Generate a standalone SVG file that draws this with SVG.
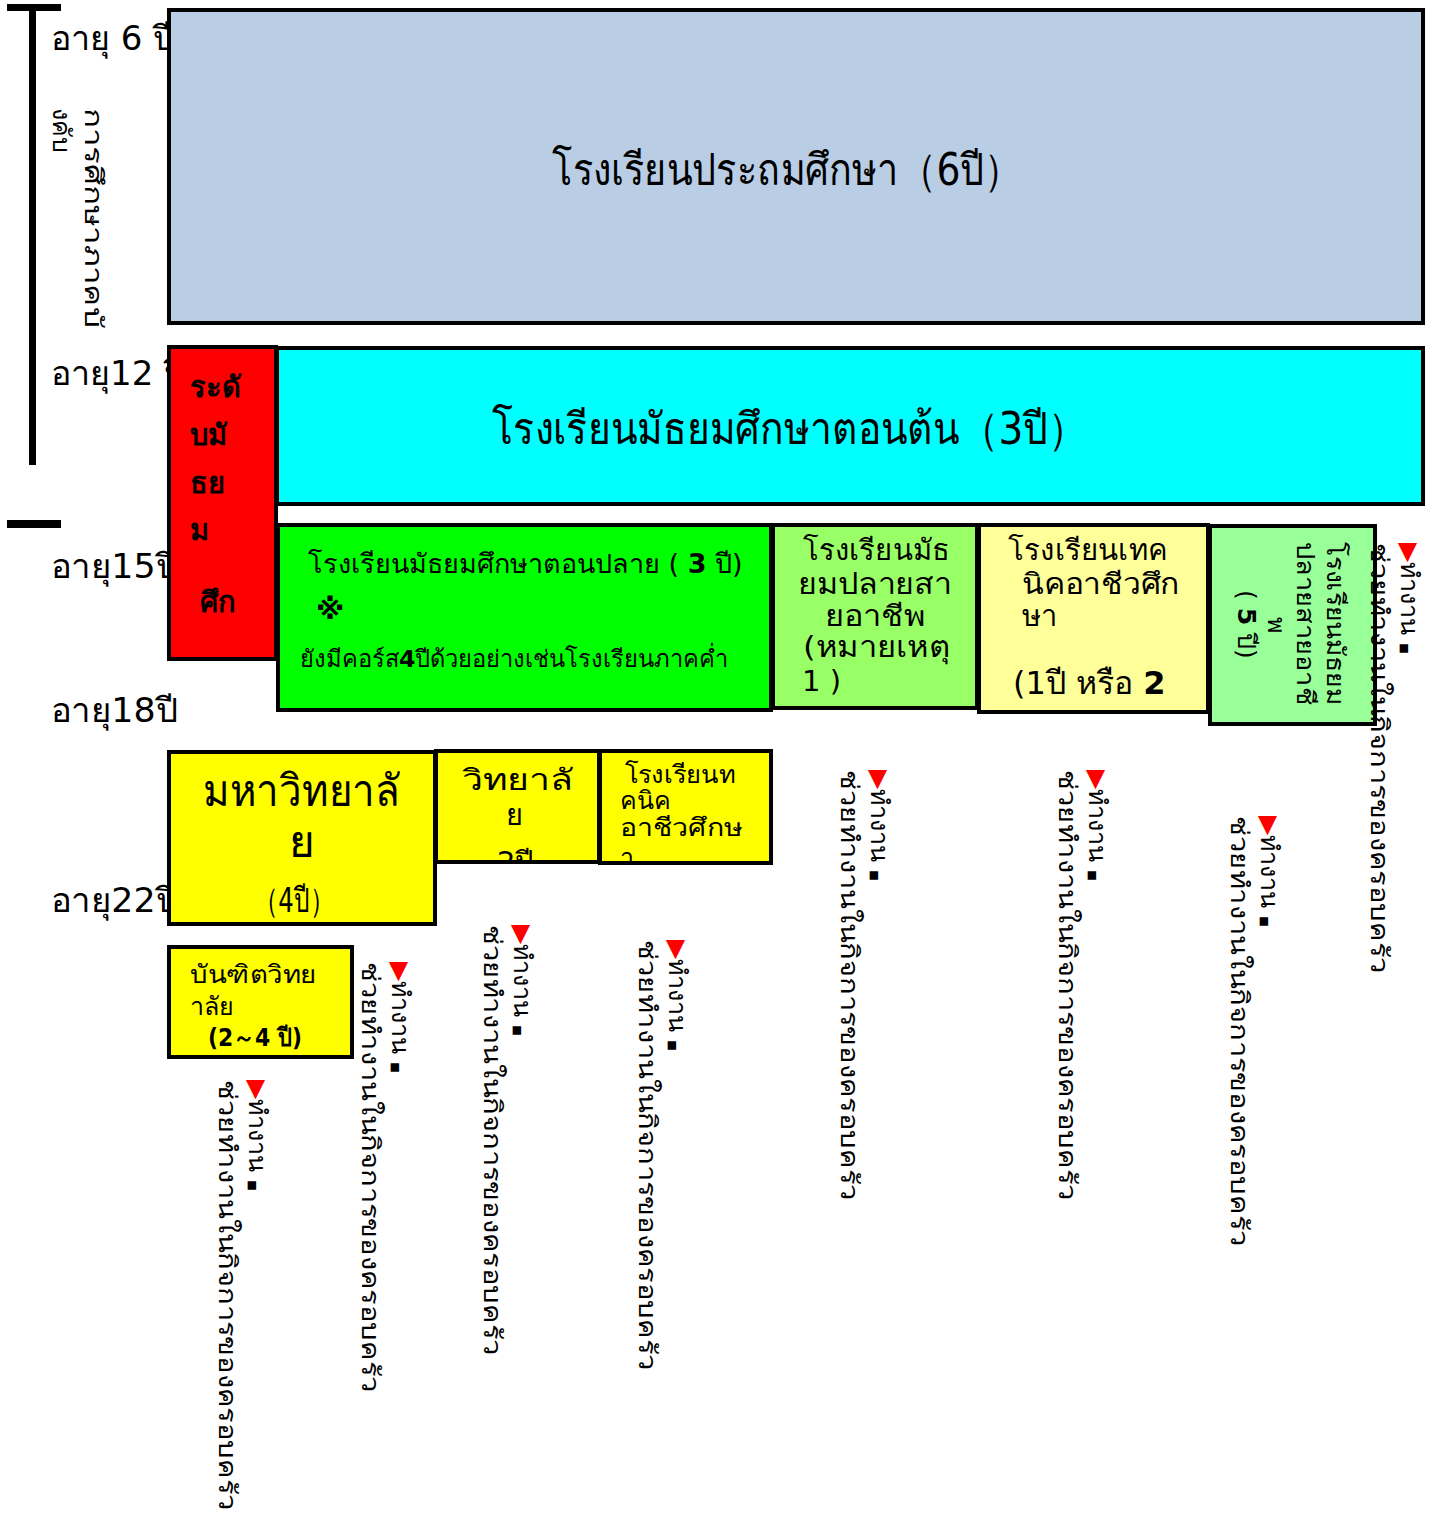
<svg xmlns="http://www.w3.org/2000/svg" width="1445" height="1515" viewBox="0 0 1445 1515">
<style>
text{font-family:"DejaVu Sans","Noto Sans",sans-serif;fill:#000}
.age{font-size:34px}
.box{stroke:#000;stroke-width:4}
.t44{font-size:44px}
.t30{font-size:29px}
.t26{font-size:25px}
.b{font-weight:bold}
.v{font-size:25px}
.tri{fill:#FF0000}
.sq{font-size:11px}
</style>
<defs>
<clipPath id="c1"><rect x="437" y="752" width="160" height="108"/></clipPath>
<clipPath id="c2"><rect x="601" y="752" width="168" height="109"/></clipPath>
</defs>
<rect width="1445" height="1515" fill="#fff"/>

<g id="bracket">
<rect x="7" y="4" width="54" height="7" fill="#000"/>
<rect x="29" y="4" width="7" height="461" fill="#000"/>
<rect x="7" y="520" width="54" height="8" fill="#000"/>
<g transform="translate(85,108) rotate(90)">
<text class="v" x="0" y="0" textLength="220" lengthAdjust="spacingAndGlyphs">การศึกษาภาคบั</text>
<text class="v" x="0" y="32">งคับ</text>
</g>
</g>

<g id="ages">
<text class="age" x="51" y="50">อายุ 6 ปี</text>
<text class="age" x="51" y="385">อายุ12 ปี</text>
<text class="age" x="51" y="578" textLength="127" lengthAdjust="spacingAndGlyphs">อายุ15ปี</text>
<text class="age" x="51" y="722" textLength="127" lengthAdjust="spacingAndGlyphs">อายุ18ปี</text>
<text class="age" x="51" y="912" textLength="127" lengthAdjust="spacingAndGlyphs">อายุ22ปี</text>
</g>

<g id="primary">
<rect class="box" x="169" y="10" width="1254" height="313" fill="#B9CDE5"/>
<text class="t44" x="552" y="185" textLength="470" lengthAdjust="spacingAndGlyphs">โรงเรียนประถมศึกษา（6ปี）</text>
</g>

<g id="lower-secondary">
<rect class="box" x="277" y="348" width="1146" height="156" fill="#00FFFF"/>
<text class="t44" x="492" y="444" textLength="595" lengthAdjust="spacingAndGlyphs">โรงเรียนมัธยมศึกษาตอนต้น（3ปี）</text>
</g>

<g id="secondary-level">
<rect class="box" x="169" y="347" width="107" height="312" fill="#FF0000"/>
<text class="t30 b" x="190" y="397">ระดั</text>
<text class="t30 b" x="190" y="445">บมั</text>
<text class="t30 b" x="190" y="493">ธย</text>
<text class="t30 b" x="190" y="540">ม</text>
<text class="t30 b" x="200" y="612">ศึก</text>
</g>

<g id="upper-secondary">
<rect class="box" x="278" y="525" width="493" height="185" fill="#00FF00"/>
<text x="308" y="573" font-size="27">โรงเรียนมัธยมศึกษาตอนปลาย ( <tspan class="b">3</tspan> ปี)</text>
<text class="t30 b" x="316" y="619">※</text>
<text x="300" y="667" font-size="23.7">ยังมีคอร์ส<tspan class="b">4</tspan>ปีด้วยอย่างเช่นโรงเรียนภาคค่ำ</text>
</g>

<g id="vocational-upper">
<rect class="box" x="773" y="525" width="204" height="183" fill="#99FF66"/>
<text class="t30" x="803" y="560" textLength="147" lengthAdjust="spacingAndGlyphs">โรงเรียนมัธ</text>
<text class="t30" x="798" y="594" textLength="154" lengthAdjust="spacingAndGlyphs">ยมปลายสา</text>
<text class="t30" x="825" y="626" textLength="100" lengthAdjust="spacingAndGlyphs">ยอาชีพ</text>
<text class="t30" x="803" y="657" textLength="147" lengthAdjust="spacingAndGlyphs">(หมายเหตุ</text>
<text class="t30" x="802" y="691">1 )</text>
</g>

<g id="technical">
<rect class="box" x="979" y="525" width="229" height="187" fill="#FFFF99"/>
<text class="t30" x="1008" y="560" textLength="159" lengthAdjust="spacingAndGlyphs">โรงเรียนเทค</text>
<text class="t30" x="1022" y="594" textLength="158" lengthAdjust="spacingAndGlyphs">นิคอาชีวศึก</text>
<text class="t30" x="1022" y="626">ษา</text>
<text x="1013" y="694" font-size="32">(1ปี หรือ <tspan class="b">2</tspan></text>
</g>

<g id="vocational-5">
<rect class="box" x="1210" y="526" width="165" height="198" fill="#99FF99"/>
<g transform="translate(1327,542) rotate(90)">
<text class="v" x="0" y="0" textLength="163" lengthAdjust="spacingAndGlyphs">โรงเรียนมัธยม</text>
<text class="v" x="0" y="30" textLength="163" lengthAdjust="spacingAndGlyphs">ปลายสายอาชี</text>
<text class="v" x="75" y="59">พ</text>
<text class="v" x="48" y="89">( <tspan class="b">5</tspan> ปี)</text>
</g>
</g>

<g id="university">
<rect class="box" x="169" y="752" width="266" height="172" fill="#FFFF00"/>
<text class="t44" x="203" y="806" textLength="197" lengthAdjust="spacingAndGlyphs">มหาวิทยาลั</text>
<text class="t44" x="289" y="857">ย</text>
<text x="254" y="912" font-size="34" textLength="80" lengthAdjust="spacingAndGlyphs">（4ปี）</text>
</g>

<g id="college">
<rect class="box" x="436" y="751" width="163" height="111" fill="#FFFF00"/>
<g clip-path="url(#c1)">
<text class="t30" x="462" y="790" textLength="111" lengthAdjust="spacingAndGlyphs">วิทยาลั</text>
<text class="t30" x="506" y="825">ย</text>
<text class="t30" x="497" y="872">2ปี</text>
</g>
</g>

<g id="tech-college">
<rect class="box" x="600" y="751" width="171" height="112" fill="#FFFF00"/>
<g clip-path="url(#c2)">
<text class="t26" x="625" y="783" textLength="110" lengthAdjust="spacingAndGlyphs">โรงเรียนท</text>
<text class="t26" x="620" y="809">คนิค</text>
<text class="t26" x="620" y="836" textLength="122" lengthAdjust="spacingAndGlyphs">อาชีวศึกษ</text>
<text class="t26" x="620" y="866">า</text>
</g>
</g>

<g id="graduate">
<rect class="box" x="169" y="947" width="183" height="110" fill="#FFFF00"/>
<text class="t26" x="190" y="983" textLength="127" lengthAdjust="spacingAndGlyphs">บันฑิตวิทย</text>
<text class="t26" x="190" y="1015">าลัย</text>
<text class="t26 b" x="208" y="1046" textLength="94" lengthAdjust="spacingAndGlyphs">(2～4 ปี)</text>
</g>

<g id="connectors">
<g transform="translate(249,1080) rotate(90)">
<text class="v" x="0" y="0"><tspan class="tri">▶</tspan>ทำงาน <tspan class="sq">■</tspan></text>
<text class="v" x="0" y="30" textLength="430" lengthAdjust="spacingAndGlyphs">ช่วยทำงานในกิจการของครอบครัว</text>
</g>
<g transform="translate(392,962) rotate(90)">
<text class="v" x="0" y="0"><tspan class="tri">▶</tspan>ทำงาน <tspan class="sq">■</tspan></text>
<text class="v" x="0" y="30" textLength="430" lengthAdjust="spacingAndGlyphs">ช่วยทำงานในกิจการของครอบครัว</text>
</g>
<g transform="translate(514,925) rotate(90)">
<text class="v" x="0" y="0"><tspan class="tri">▶</tspan>ทำงาน <tspan class="sq">■</tspan></text>
<text class="v" x="0" y="30" textLength="430" lengthAdjust="spacingAndGlyphs">ช่วยทำงานในกิจการของครอบครัว</text>
</g>
<g transform="translate(669,940) rotate(90)">
<text class="v" x="0" y="0"><tspan class="tri">▶</tspan>ทำงาน <tspan class="sq">■</tspan></text>
<text class="v" x="0" y="30" textLength="430" lengthAdjust="spacingAndGlyphs">ช่วยทำงานในกิจการของครอบครัว</text>
</g>
<g transform="translate(871,770) rotate(90)">
<text class="v" x="0" y="0"><tspan class="tri">▶</tspan>ทำงาน <tspan class="sq">■</tspan></text>
<text class="v" x="0" y="30" textLength="430" lengthAdjust="spacingAndGlyphs">ช่วยทำงานในกิจการของครอบครัว</text>
</g>
<g transform="translate(1089,770) rotate(90)">
<text class="v" x="0" y="0"><tspan class="tri">▶</tspan>ทำงาน <tspan class="sq">■</tspan></text>
<text class="v" x="0" y="30" textLength="430" lengthAdjust="spacingAndGlyphs">ช่วยทำงานในกิจการของครอบครัว</text>
</g>
<g transform="translate(1261,816) rotate(90)">
<text class="v" x="0" y="0"><tspan class="tri">▶</tspan>ทำงาน <tspan class="sq">■</tspan></text>
<text class="v" x="0" y="30" textLength="430" lengthAdjust="spacingAndGlyphs">ช่วยทำงานในกิจการของครอบครัว</text>
</g>
<g transform="translate(1401,543) rotate(90)">
<text class="v" x="0" y="0"><tspan class="tri">▶</tspan>ทำงาน <tspan class="sq">■</tspan></text>
<text class="v" x="0" y="30" textLength="430" lengthAdjust="spacingAndGlyphs">ช่วยทำงานในกิจการของครอบครัว</text>
</g>
</g>
</svg>
